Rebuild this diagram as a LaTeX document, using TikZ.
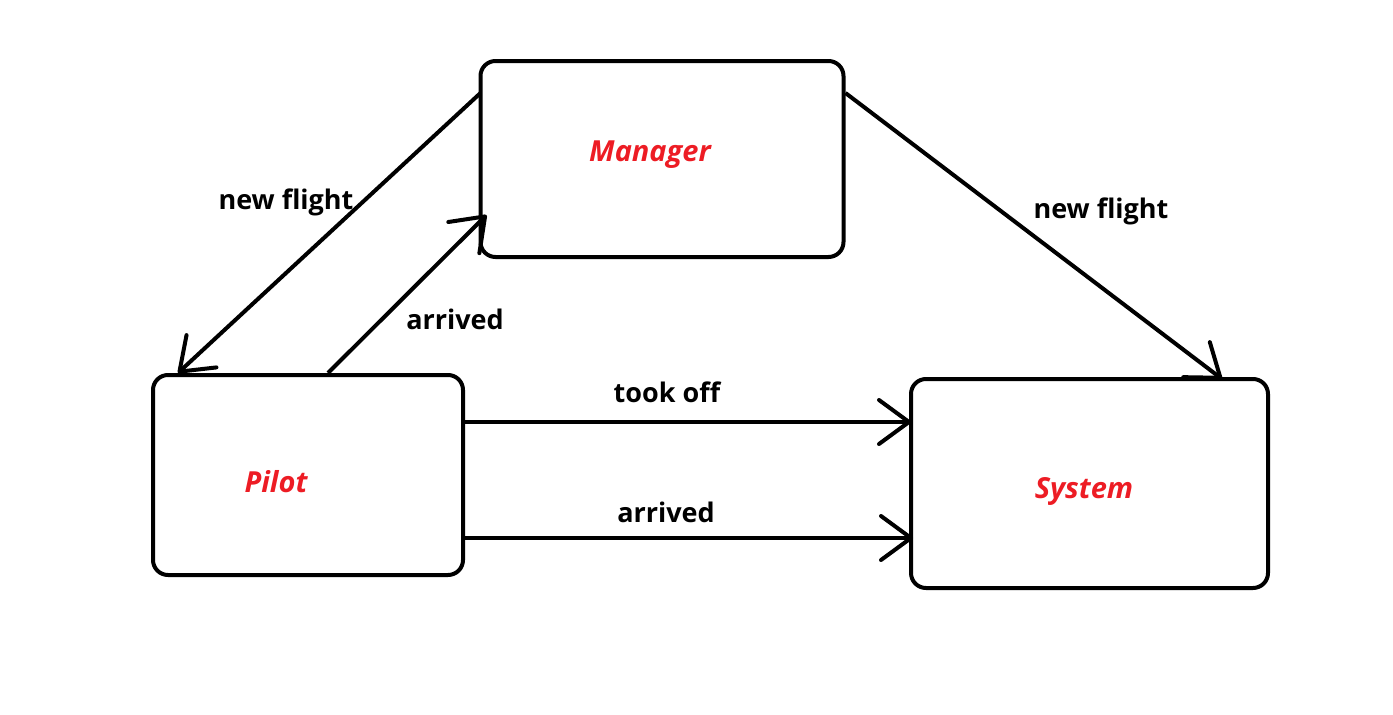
\documentclass[tikz,border=0pt]{standalone}
\usepackage{fontspec}
\setmainfont{Open Sans}
\usetikzlibrary{calc,arrows.meta,positioning}
\definecolor{paintred}{RGB}{237,28,36}
\tikzset{
     actor/.style = {draw, line width=4pt, rounded corners=15pt, outer sep=0pt},
     actor name/.style = {text=paintred, font=\bfseries\itshape\fontsize{29}{34}\selectfont},
     msg/.style = {font=\bfseries\fontsize{27}{32}\selectfont},
     flow/.style = {black, line width=4pt, -{Straight Barb[length=30pt,width=44pt,round]}},
    }
\begin{document}
\begin{tikzpicture}[x=1pt,y=-1pt]
        \useasboundingbox (0,0) rectangle (1393,715);
        \node [actor, minimum width=363pt, minimum height=196pt] (mgr) at (662,159) {};
        \node [actor, minimum width=310pt, minimum height=200pt] (pilot) at (308,475) {};
        \node [actor, minimum width=357pt, minimum height=209pt] (sys) at (1089.5,483.5) {};
        \node [actor name] (mgrname) at (650,155) {Manager};
        \node [actor name] (pilotname) at (276,482) {Pilot};
        \node [actor name] (sysname) at (1084,491) {System};
        \path[flow]
        ($(mgr.north west)+(0,32)$) edge ($(pilot.north west)+(25,-2)$)
        ($(pilot.north west)+(175,-2)$) edge ($(mgr.south west)+(6,-42)$)
        ($(mgr.north east)+(2,32)$) edge ($(sys.north east)+(-46,0)$)
        ($(pilot.north east)+(0,47)$) edge ($(sys.north west)+(0,43)$)
        ($(pilot.north east)+(0,163)$) edge ($(sys.north west)+(2,159)$);
        \node [msg] (newleft) at (286,202) {new flight};
        \node [msg] (arrup) at (455,319) {arrived};
        \node [msg] (newright) at (1101,211) {new flight};
        \node [msg] (tookoff) at (667,392) {took off};
        \node [msg] (arrsys) at (666,512) {arrived};
    \end{tikzpicture}
\end{document}
